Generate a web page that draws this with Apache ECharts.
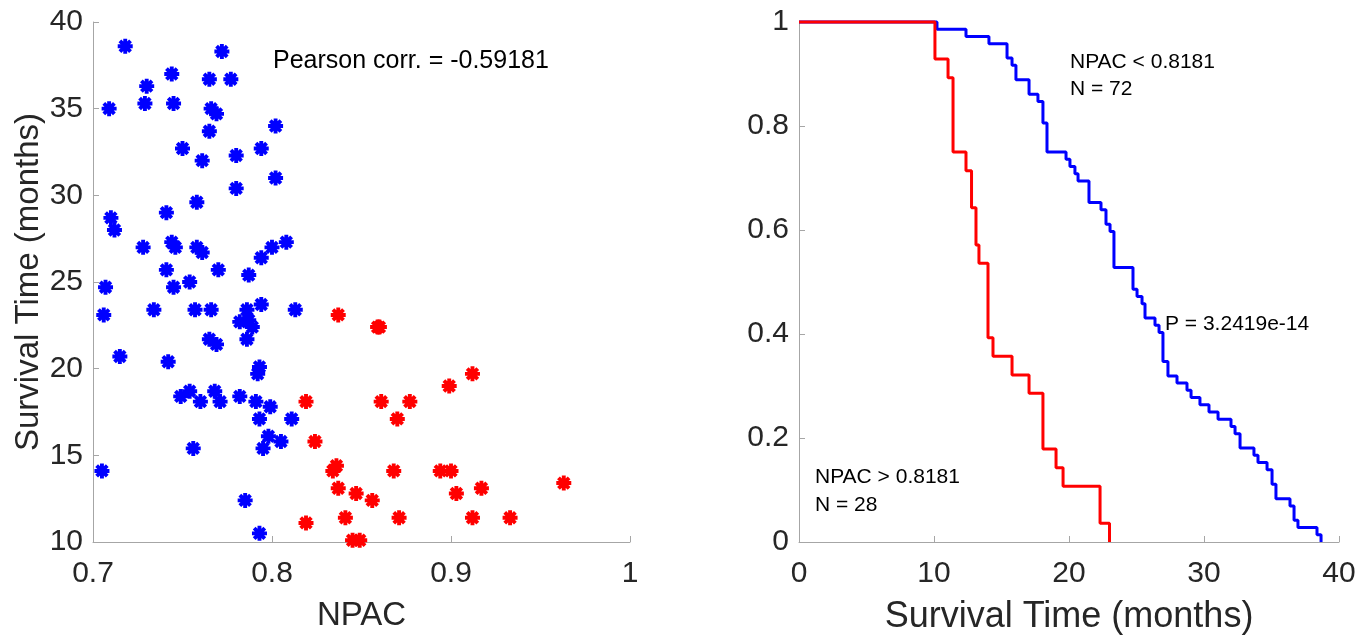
<!DOCTYPE html>
<html>
<head>
<meta charset="utf-8">
<script src="https://cdn.jsdelivr.net/npm/echarts@6/dist/echarts.min.js"></script>
<style>
html, body { margin: 0; padding: 0; background: #fff; }
#chart { width: 1372px; height: 643px; }
</style>
</head>
<body>
<div id="chart"></div>
<script>
// scatter: NPAC vs survival time, split at NPAC = 0.8181
const lowNpac = [0.718, 0.772, 0.709, 0.730, 0.744, 0.765, 0.777, 0.729, 0.745, 0.766, 0.769, 0.765, 0.802, 0.750, 0.761, 0.780, 0.794, 0.780, 0.802,
  0.710, 0.712, 0.741, 0.758, 0.728, 0.744, 0.746, 0.758, 0.761, 0.741, 0.770, 0.794, 0.800, 0.808, 0.787, 0.707, 0.745, 0.754,
  0.706, 0.734, 0.757, 0.766, 0.786, 0.794, 0.813, 0.782, 0.787, 0.789, 0.786, 0.765, 0.769, 0.715, 0.742, 0.793,
  0.792, 0.749, 0.754, 0.760, 0.768, 0.771, 0.782, 0.791, 0.799, 0.793, 0.811, 0.798, 0.795, 0.805, 0.756, 0.705, 0.785, 0.793]
const lowMonths = [38.6, 38.3, 35.0, 36.3, 37.0, 36.7, 36.7, 35.3, 35.3, 35.0, 34.7, 33.7, 34.0, 32.7, 32.0, 32.3, 32.7, 30.4, 31.0,
  28.7, 28.0, 29.0, 29.6, 27.0, 27.3, 27.0, 27.0, 26.7, 25.7, 25.7, 26.4, 27.0, 27.3, 25.4, 24.7, 24.7, 25.0,
  23.1, 23.4, 23.4, 23.4, 23.4, 23.7, 23.4, 22.7, 22.8, 22.4, 21.7, 21.7, 21.4, 20.7, 20.4, 20.1,
  19.7, 18.4, 18.7, 18.1, 18.7, 18.1, 18.4, 18.1, 17.8, 17.1, 17.1, 16.1, 15.4, 15.8, 15.4, 14.1, 12.4, 10.5]

const highNpac = [0.837, 0.859, 0.860, 0.912, 0.899, 0.819, 0.861, 0.877, 0.870, 0.824, 0.836, 0.834, 0.868, 0.894,
  0.900, 0.963, 0.837, 0.917, 0.847, 0.903, 0.856, 0.819, 0.841, 0.871, 0.912, 0.933, 0.845, 0.849]
const highMonths = [23.1, 22.4, 22.4, 19.7, 19.0, 18.1, 18.1, 18.1, 17.1, 15.8, 14.4, 14.1, 14.1, 14.1,
  14.1, 13.4, 13.1, 13.1, 12.8, 12.8, 12.4, 11.1, 11.4, 11.4, 11.4, 11.4, 10.1, 10.1]

// Kaplan-Meier steps
const kmLowTimes = [0, 10.22, 12.37, 14.07, 15.41, 15.78, 16.07, 17.04, 17.70, 18.07,
  18.37, 19.78, 20.07, 20.44, 20.67, 21.48, 22.37, 22.74, 23.04, 23.33,
  24.74, 25.04, 25.41, 25.63, 26.37, 26.67, 26.96, 27.33, 28.0, 28.74,
  29.04, 29.70, 30.37, 31.04, 32.0, 32.30, 32.67, 33.70, 34.0, 34.67,
  35.04, 35.33, 36.37, 36.67, 36.96, 38.37, 38.67]
const kmLowSurv = [1, 0.986, 0.972, 0.958, 0.931, 0.917, 0.889, 0.861, 0.847, 0.806,
  0.75, 0.736, 0.722, 0.708, 0.694, 0.653, 0.639, 0.611, 0.597, 0.528,
  0.486, 0.472, 0.458, 0.431, 0.417, 0.403, 0.347, 0.319, 0.306, 0.292,
  0.278, 0.264, 0.25, 0.236, 0.222, 0.208, 0.181, 0.167, 0.153, 0.139,
  0.111, 0.083, 0.069, 0.042, 0.028, 0.014, 0]

const kmHighTimes = [0, 10.07, 11.04, 11.41, 12.37, 12.78, 13.11, 13.33, 14.0, 14.37, 15.78, 17.04, 18.07, 19.04, 19.56, 22.3, 23.0]
const kmHighSurv = [1, 0.929, 0.893, 0.75, 0.714, 0.643, 0.571, 0.536, 0.393, 0.357, 0.321, 0.286, 0.179, 0.143, 0.107, 0.036, 0]

const xTicksLeft = ['0.7', '0.8', '0.9', '1']

const FONT = '"Liberation Sans", Arial, sans-serif'
const TXT = '#262626'
const AX = '#a6a6a6'

// asterisk marker: four bars at 0/45/90/135 degrees
const star = (() => {
  const w = 2.6
  let p = ''
  for (let k = 0; k < 4; k++) {
    const a = k * Math.PI / 4
    const c = Math.cos(a), s = Math.sin(a)
    const pts = [[-10, -w], [10, -w], [10, w], [-10, w]].map(([x, y]) =>
      [(x * c - y * s + 10).toFixed(3), (x * s + y * c + 10).toFixed(3)])
    p += 'M' + pts.map(q => q.join(',')).join('L') + 'Z'
  }
  return 'path://' + p
})()

const zip = (a, b) => a.map((v, i) => [v, b[i]])

const axisCommon = {
  axisLine: { show: true, lineStyle: { color: AX, width: 1 } },
  axisTick: { show: true, inside: true, length: 6, lineStyle: { color: AX } },
  splitLine: { show: false },
  axisLabel: { color: TXT, fontSize: 30, fontFamily: FONT },
  nameTextStyle: { color: TXT, fontFamily: FONT }
}

const option = {
  animation: false,
  backgroundColor: '#fff',
  grid: [
    { left: 93, top: 22, width: 537, height: 520 },
    { left: 799, top: 22, width: 540, height: 520 }
  ],
  xAxis: [{
    ...axisCommon,
    gridIndex: 0,
    type: 'value',
    min: 0.7,
    max: 1,
    interval: 0.1,
    axisLabel: { ...axisCommon.axisLabel, margin: 17, formatter: (v) => xTicksLeft[Math.round((v - 0.7) * 10)] },
    name: 'NPAC',
    nameLocation: 'middle',
    nameGap: 57,
    nameTextStyle: { ...axisCommon.nameTextStyle, fontSize: 33 }
  }, {
    ...axisCommon,
    gridIndex: 1,
    type: 'value',
    min: 0,
    max: 40,
    interval: 10,
    axisLabel: { ...axisCommon.axisLabel, margin: 17 },
    name: 'Survival Time (months)',
    nameLocation: 'middle',
    nameGap: 57,
    nameTextStyle: { ...axisCommon.nameTextStyle, fontSize: 36 }
  }],
  yAxis: [{
    ...axisCommon,
    gridIndex: 0,
    type: 'value',
    min: 10,
    max: 40,
    interval: 5,
    axisLabel: { ...axisCommon.axisLabel, margin: 10 },
    name: 'Survival Time (months)',
    nameLocation: 'middle',
    nameGap: 45,
    nameTextStyle: { ...axisCommon.nameTextStyle, fontSize: 33 }
  }, {
    ...axisCommon,
    gridIndex: 1,
    type: 'value',
    min: 0,
    max: 1,
    interval: 0.2,
    axisLabel: { ...axisCommon.axisLabel, margin: 10 }
  }],
  series: [{
    type: 'scatter',
    xAxisIndex: 0,
    yAxisIndex: 0,
    data: zip(lowNpac, lowMonths),
    symbol: star,
    symbolSize: 15,
    clip: false,
    itemStyle: { color: '#0000ff', opacity: 1 }
  }, {
    type: 'scatter',
    xAxisIndex: 0,
    yAxisIndex: 0,
    data: zip(highNpac, highMonths),
    symbol: star,
    symbolSize: 15,
    clip: false,
    itemStyle: { color: '#ff0000', opacity: 1 }
  }, {
    type: 'line',
    xAxisIndex: 1,
    yAxisIndex: 1,
    step: 'end',
    data: zip(kmLowTimes, kmLowSurv),
    showSymbol: false,
    clip: false,
    lineStyle: { color: '#0000ff', width: 3 }
  }, {
    type: 'line',
    xAxisIndex: 1,
    yAxisIndex: 1,
    step: 'end',
    data: zip(kmHighTimes, kmHighSurv),
    showSymbol: false,
    clip: false,
    lineStyle: { color: '#ff0000', width: 3 }
  }],
  graphic: [
    { type: 'text', style: { text: 'Pearson corr. = -0.59181', x: 273, y: 61, verticalAlign: 'middle', font: '25px ' + FONT, fill: '#000' } },
    { type: 'text', style: { text: 'NPAC < 0.8181', x: 1070, y: 62, verticalAlign: 'middle', font: '21px ' + FONT, fill: '#000' } },
    { type: 'text', style: { text: 'N = 72', x: 1070, y: 89, verticalAlign: 'middle', font: '21px ' + FONT, fill: '#000' } },
    { type: 'text', style: { text: 'P = 3.2419e-14', x: 1165, y: 324, verticalAlign: 'middle', font: '21px ' + FONT, fill: '#000' } },
    { type: 'text', style: { text: 'NPAC > 0.8181', x: 815, y: 477, verticalAlign: 'middle', font: '21px ' + FONT, fill: '#000' } },
    { type: 'text', style: { text: 'N = 28', x: 815, y: 505, verticalAlign: 'middle', font: '21px ' + FONT, fill: '#000' } }
  ]
}

const chart = echarts.init(document.getElementById('chart'))
chart.setOption(option)
</script>
</body>
</html>
